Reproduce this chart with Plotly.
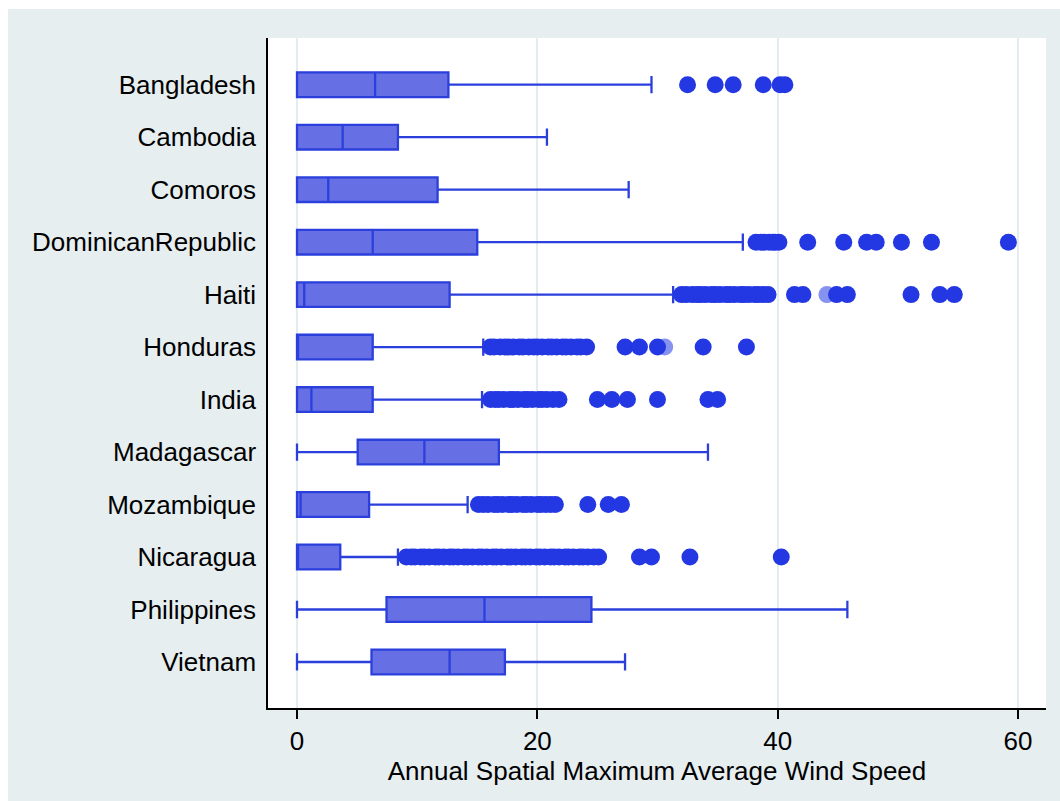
import plotly.graph_objects as go

countries = ["Bangladesh", "Cambodia", "Comoros", "DominicanRepublic", "Haiti", "Honduras",
             "India", "Madagascar", "Mozambique", "Nicaragua", "Philippines", "Vietnam"]
q1 =         [0.0, 0.0, 0.0, 0.0, 0.0, 0.0, 0.0, 5.05, 0.0, 0.0, 7.45, 6.2]
median =     [6.5, 3.8, 2.6, 6.3, 0.6, 0.05, 1.2, 10.6, 0.3, 0.05, 15.6, 12.7]
q3 =         [12.6, 8.4, 11.7, 15.0, 12.7, 6.3, 6.3, 16.8, 6.0, 3.6, 24.5, 17.3]
lower_adj =  [0.0, 0.0, 0.0, 0.0, 0.0, 0.0, 0.0, 0.0, 0.0, 0.0, 0.0, 0.0]
upper_adj =  [29.5, 20.8, 27.6, 37.1, 31.3, 15.5, 15.4, 34.2, 14.2, 8.4, 45.8, 27.3]

out_bangladesh = [32.5, 34.8, 36.3, 38.8, 40.2, 40.6]
out_dominican = [38.2, 38.6, 38.9, 39.3, 39.6, 39.8, 40.1, 42.5, 45.5, 47.4, 48.2, 50.3, 52.8, 59.2]
out_haiti = [32.0, 32.4, 32.9, 33.3, 33.6, 34.0, 34.5, 34.8, 35.2, 35.7, 36.0, 36.4, 36.9,
             37.2, 37.6, 38.1, 38.4, 38.8, 39.2, 41.4, 42.1, 44.9, 45.8, 51.1, 53.5, 54.7]
out_honduras = [16.1, 16.4, 16.9, 17.3, 17.6, 18.0, 18.5, 18.8, 19.3, 19.7, 20.0, 20.4, 20.9,
                21.2, 21.6, 22.1, 22.4, 22.8, 23.3, 23.6, 24.1, 27.3, 28.5, 30.0, 33.8, 37.4]
out_india = [16.1, 16.5, 16.8, 17.2, 17.7, 18.0, 18.4, 18.9, 19.2, 19.6, 20.1, 20.4, 20.8,
             21.3, 21.8, 25.0, 26.2, 27.5, 30.0, 34.2, 35.0]
out_mozambique = [15.1, 15.5, 15.9, 16.4, 16.7, 17.1, 17.6, 17.9, 18.3, 18.8, 19.1, 19.5,
                  20.0, 20.3, 20.7, 21.1, 21.5, 24.2, 25.9, 27.0]
out_nicaragua = [9.1, 9.5, 9.8, 10.3, 10.6, 11.0, 11.5, 11.8, 12.2, 12.7, 13.0, 13.4, 13.9,
                 14.2, 14.6, 15.1, 15.4, 15.8, 16.3, 16.6, 17.0, 17.5, 17.8, 18.2, 18.7,
                 19.0, 19.4, 19.9, 20.2, 20.6, 21.1, 21.4, 21.8, 22.3, 22.6, 23.0, 23.5,
                 23.8, 24.2, 24.7, 25.1, 28.5, 29.5, 32.7, 40.3]
outliers = {
    "Bangladesh": out_bangladesh,
    "DominicanRepublic": out_dominican,
    "Haiti": out_haiti,
    "Honduras": out_honduras,
    "India": out_india,
    "Mozambique": out_mozambique,
    "Nicaragua": out_nicaragua,
}
faint_country = ["Haiti", "Honduras"]
faint_value = [44.1, 30.6]

x_ticks = [0, 20, 40, 60]
x_title = "Annual Spatial Maximum Average Wind Speed"

BOX_FILL = "#6670E4"
BOX_LINE = "#2B3FDD"
DOT = "#2338E2"
BG = "#E6EEF0"
FONT = "Liberation Sans, Arial, Helvetica, sans-serif"

fig = go.Figure()

for i, c in enumerate(countries):
    fig.add_trace(go.Box(
        y=[c], q1=[q1[i]], median=[median[i]], q3=[q3[i]],
        lowerfence=[lower_adj[i]], upperfence=[upper_adj[i]],
        orientation="h", boxpoints=False, width=0.47, whiskerwidth=0.7,
        fillcolor=BOX_FILL, line=dict(color=BOX_LINE, width=2.3),
        showlegend=False, hoverinfo="skip",
    ))

ox, oy = [], []
for c, vals in outliers.items():
    ox.extend(vals)
    oy.extend([c] * len(vals))

fig.add_trace(go.Scatter(
    x=faint_value, y=faint_country, mode="markers",
    marker=dict(color=DOT, size=17, opacity=0.55, line=dict(width=0)),
    showlegend=False, hoverinfo="skip",
))
fig.add_trace(go.Scatter(
    x=ox, y=oy, mode="markers",
    marker=dict(color=DOT, size=17, line=dict(width=0)),
    showlegend=False, hoverinfo="skip",
))

fig.update_layout(
    width=1060, height=801,
    margin=dict(l=268, r=14, t=38, b=93),
    paper_bgcolor=BG, plot_bgcolor="white",
    font=dict(family=FONT, size=26, color="black"),
    boxmode="overlay",
    shapes=[
        dict(type="rect", xref="paper", yref="paper", layer="above",
             x0=-268 / 778, x1=-260 / 778, y0=-93 / 670, y1=1 + 38 / 670,
             fillcolor="white", line=dict(width=0)),
        dict(type="rect", xref="paper", yref="paper", layer="above",
             x0=-268 / 778, x1=1 + 14 / 778, y0=1 + 29 / 670, y1=1 + 38 / 670,
             fillcolor="white", line=dict(width=0)),
    ],
)

fig.update_xaxes(
    range=[-2.413, 62.33], tickvals=x_ticks, ticktext=[str(t) for t in x_ticks],
    showgrid=True, gridcolor="#E3ECEE", gridwidth=2, zeroline=False,
    showline=True, linecolor="black", linewidth=1.5,
    ticks="outside", ticklen=9, tickwidth=1.5, tickcolor="black",
    tickfont=dict(size=26, family=FONT, color="black"),
    title=dict(text=x_title, font=dict(size=26, family=FONT, color="black"), standoff=6),
)
fig.update_yaxes(
    type="category", categoryorder="array", categoryarray=countries,
    range=[11.877, -0.89], showgrid=False, zeroline=False,
    showline=True, linecolor="black", linewidth=1.5, ticks="",
    ticklabelstandoff=5,
    tickfont=dict(size=26, family=FONT, color="black"),
)

fig.write_html("out.html")
